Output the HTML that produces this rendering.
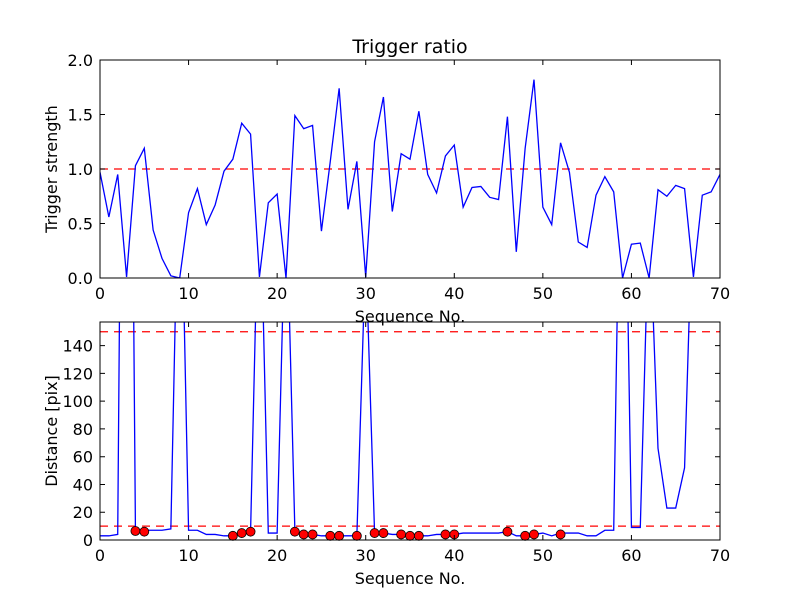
<!DOCTYPE html>
<html><head><meta charset="utf-8"><style>
body{margin:0;background:#fff}
svg{display:block;font-family:"DejaVu Sans","Liberation Sans",sans-serif}
</style></head><body>
<svg id="c" width="800" height="600" viewBox="0 0 800 600"></svg>
<script>
const xs = Array.from({length:71},(_, i)=>i);
const strength = [0.97,0.56,0.95,0.01,1.03,1.19,0.44,0.18,0.02,0.0,0.6,0.82,0.49,0.67,0.98,1.09,1.42,1.32,0.01,0.69,0.77,0.0,1.49,1.37,1.40,0.43,1.07,1.74,0.63,1.07,0.01,1.25,1.66,0.61,1.14,1.09,1.53,0.95,0.78,1.12,1.22,0.65,0.83,0.84,0.74,0.72,1.48,0.24,1.19,1.82,0.65,0.49,1.24,0.97,0.33,0.28,0.76,0.93,0.79,0.0,0.31,0.32,0.0,0.81,0.75,0.85,0.82,0.01,0.76,0.79,0.95];
const distance = [3,3,4,800,7,7,7,7,8,315,7,7,4,4,3,3,5,6,280,5,5,258,7,4,4,3,3,3,3,3,210,5,5,4,4,3,3,3,4,4,4,5,5,5,5,5,6,3,3,4,5,3,5,5,5,3,3,7,7,400,9,9,240,66,23,23,52,260,1000,1000,1000];
const markerX = [4,5,15,16,17,22,23,24,26,27,29,31,32,34,35,36,39,40,46,48,49,52];
const markerY = [6.5,6,3,5,6,6,4,4,3,3,3,5,5,4,3,3,4,4,6,3,4,4];
const topTicksY = [0.0,0.5,1.0,1.5,2.0];
const botTicksY = [0,20,40,60,80,100,120,140];
const ticksX = [0,10,20,30,40,50,60,70];

const NS="http://www.w3.org/2000/svg";
const svg=document.getElementById('c');
function el(t,a,p){const e=document.createElementNS(NS,t);for(const k in a)e.setAttribute(k,a[k]);(p||svg).appendChild(e);return e;}
const L=100,R=720;
const sx=v=>L+(v-0)/(70-0)*(R-L);
function panel(top,bot,ymax,name){
  const sy=v=>bot-(v/ymax)*(bot-top);
  const g=el('g',{});
  
  
  const clip=el('clipPath',{id:'clip-'+name},g);
  el('rect',{x:L,y:top,width:R-L,height:bot-top},clip);
  return {g,sy,top,bot,clipId:'clip-'+name};
}
function axes(p,yt,fmt,xlabel,ylabel){
  const g=p.g;
  ticksX.forEach(t=>{
    const x=sx(t);
    const tk=el('path',{d:`M${x},${p.bot}v-5M${x},${p.top}v5`,stroke:'#000','stroke-width':1},g);
    
    const tl=el('text',{x:x,y:p.bot+21,'font-size':16,'text-anchor':'middle'},g);
    tl.textContent=t;
    
  });
  yt.forEach(t=>{
    const y=p.sy(t);
    const tk=el('path',{d:`M${L},${y}h5M${R},${y}h-5`,stroke:'#000','stroke-width':1},g);
    
    const tl=el('text',{x:L-7,y:y+6,'font-size':16,'text-anchor':'end'},g);
    tl.textContent=fmt(t);
    
  });
  const fr=el('rect',{x:L,y:p.top,width:R-L,height:p.bot-p.top,fill:'none',stroke:'#000','stroke-width':1},g);
  
  const xl=el('text',{x:(L+R)/2,y:p.bot+44,'font-size':16,'text-anchor':'middle'},g);
  xl.textContent=xlabel;
  
  const cy=(p.top+p.bot)/2;
  const yl=el('text',{x:0,y:0,'font-size':16,'text-anchor':'middle',transform:`translate(57,${cy}) rotate(-90)`},g);
  yl.textContent=ylabel;
  
}
function hline(p,v,name){
  const y=p.sy(v);
  const l=el('line',{x1:L,x2:R,y1:y,y2:y,stroke:'#f00','stroke-width':1.2,'stroke-dasharray':'8,6'},p.g);
  
}
function series(p,xv,yv,name){
  const d=xv.map((x,i)=>(i?'L':'M')+sx(x).toFixed(2)+','+p.sy(yv[i]).toFixed(2)).join('');
  const l=el('path',{d,fill:'none',stroke:'#00f','stroke-width':1.3,'clip-path':`url(#${p.clipId})`},p.g);
  
}
const p1=panel(60,278,2.0,'trigger-panel');
hline(p1,1.0,'threshold-line');
series(p1,xs,strength,'trigger-strength-line');
axes(p1,topTicksY,t=>t.toFixed(1),'Sequence No.','Trigger strength');
const title=el('text',{x:410,y:53,'font-size':19,'text-anchor':'middle'});
title.textContent='Trigger ratio';

const p2=panel(322,540,157,'distance-panel');
hline(p2,150,'upper-threshold-line');
hline(p2,10,'lower-threshold-line');
series(p2,xs,distance,'distance-line');
markerX.forEach((x,i)=>{
  const c=el('circle',{cx:sx(x),cy:p2.sy(markerY[i]),r:4.5,fill:'#f00',stroke:'#000','stroke-width':0.8},p2.g);
  
  
});
axes(p2,botTicksY,t=>String(t),'Sequence No.','Distance [pix]');
</script>
</body></html>
